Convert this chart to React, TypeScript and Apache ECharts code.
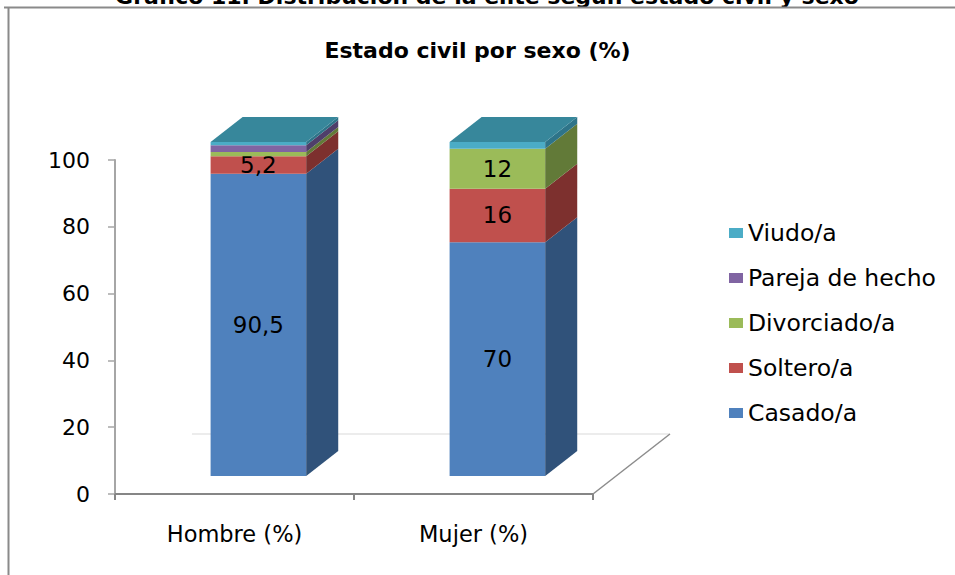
import React, { useEffect, useRef } from "react";
import * as echarts from "echarts";

const categories = ["Hombre (%)", "Mujer (%)"];
const seriesNames = ["Casado/a", "Soltero/a", "Divorciado/a", "Pareja de hecho", "Viudo/a"];
const casado = [90.5, 70];
const soltero = [5.2, 16];
const divorciado = [1.3, 12];
const pareja = [2.0, 0];
const viudo = [1.0, 2.0];
const yTicks = [0, 20, 40, 60, 80, 100];
const chartTitle = "Estado civil por sexo (%)";
const pageTitle = "Gráfico 11. Distribución de la élite según estado civil y sexo";

const frontColors = ["#4F81BD", "#C0504D", "#9BBB59", "#8064A2", "#4BACC6"];
const sideColors = ["#30527A", "#7D302E", "#627A38", "#4F3E6A", "#2E7489"];
const topColor = "#37879B";
const FONT = "DejaVu Sans";

const values = [casado, soltero, divorciado, pareja, viudo];

export default function App() {
  const ref = useRef<HTMLDivElement>(null);
  useEffect(() => {
    const chart = echarts.init(ref.current!, null, { renderer: "svg" });
    const cum = categories.map(() => 0);
    const seriesData = values.map((vals) =>
      vals.map((v, ci) => {
        const s = cum[ci];
        cum[ci] += v;
        return [ci, s, s + v, v];
      })
    );
    const topIdx = categories.map((_, ci) => {
      let t = -1;
      values.forEach((vals, si) => {
        if (vals[ci] > 0) t = si;
      });
      return t;
    });

    const barSeries = seriesNames.map((name, si) => ({
      type: "custom",
      name,
      z: 3,
      itemStyle: { color: frontColors[si] },
      encode: { x: 0, y: [1, 2] },
      data: seriesData[si],
      renderItem: (params: any, api: any) => {
        const ci = api.value(0);
        const s = api.value(1);
        const e = api.value(2);
        const v = api.value(3);
        if (!(v > 0)) return null;
        const p0 = api.coord([ci, s]);
        const p1 = api.coord([ci, e]);
        const bw = api.size([1, 0])[0];
        const w = bw * 0.4;
        const cx = p0[0] + bw * 0.1;
        const lift = 18;
        const dx = bw * 0.134;
        const dy = 25;
        const x0 = cx - w / 2;
        const x1 = cx + w / 2;
        const yb = p0[1] - lift;
        const yt = p1[1] - lift;
        const children: any[] = [
          {
            type: "rect",
            shape: { x: x0, y: yt, width: w, height: yb - yt },
            style: { fill: frontColors[si] },
          },
          {
            type: "polygon",
            shape: { points: [[x1, yb], [x1 + dx, yb - dy], [x1 + dx, yt - dy], [x1, yt]] },
            style: { fill: sideColors[si] },
          },
        ];
        if (topIdx[ci] === si) {
          children.push({
            type: "polygon",
            shape: { points: [[x0, yt], [x1, yt], [x1 + dx, yt - dy], [x0 + dx, yt - dy]] },
            style: { fill: topColor },
          });
        }
        if (v >= 5) {
          children.push({
            type: "text",
            style: {
              text: String(v).replace(".", ","),
              x: cx,
              y: (yb + yt) / 2,
              align: "center",
              verticalAlign: "middle",
              fontSize: 23,
              fontFamily: FONT,
              fill: "#000",
            },
          });
        }
        return { type: "group", children };
      },
    }));

    const floorSeries = {
      type: "custom",
      name: "floor",
      z: 1,
      silent: true,
      data: [[0, 0]],
      encode: { x: 0, y: 1 },
      renderItem: (params: any, api: any) => {
        const o = api.coord([0, 0]);
        const bw = api.size([1, 0])[0];
        const left = o[0] - bw / 2;
        const right = left + bw * categories.length;
        const y0 = o[1];
        const fdx = bw * 0.322;
        const fdy = 60;
        return {
          type: "group",
          children: [
            {
              type: "line",
              shape: { x1: left + fdx, y1: y0 - fdy, x2: right + fdx, y2: y0 - fdy },
              style: { stroke: "#D9D9D9", lineWidth: 1 },
            },
            {
              type: "line",
              shape: { x1: right, y1: y0, x2: right + fdx, y2: y0 - fdy },
              style: { stroke: "#8C8C8C", lineWidth: 1.5 },
            },
          ],
        };
      },
    };

    chart.setOption({
      animation: false,
      backgroundColor: "#fff",
      title: {
        text: chartTitle,
        left: "center",
        top: 34,
        textStyle: { fontSize: 22, fontWeight: "bold", fontFamily: FONT, color: "#000" },
      },
      legend: {
        orient: "vertical",
        left: 729,
        top: 221,
        padding: 0,
        itemWidth: 14,
        itemHeight: 10,
        itemGap: 21,
        icon: "rect",
        data: [...seriesNames].reverse(),
        textStyle: { fontSize: 23.5, fontFamily: FONT, color: "#000" },
      },
      grid: { left: 115, right: 362, top: 160, bottom: 81, containLabel: false },
      xAxis: {
        type: "category",
        data: categories,
        boundaryGap: true,
        axisLine: { lineStyle: { color: "#868686", width: 2 } },
        axisTick: { show: true, length: 6, lineStyle: { color: "#868686", width: 2 } },
        axisLabel: { margin: 28, fontSize: 22.5, fontFamily: FONT, color: "#000" },
      },
      yAxis: {
        type: "value",
        min: yTicks[0],
        max: yTicks[yTicks.length - 1],
        interval: yTicks[1] - yTicks[0],
        axisLine: { show: true, lineStyle: { color: "#A6A6A6", width: 2 } },
        axisTick: { show: true, length: 7, lineStyle: { color: "#A6A6A6", width: 1.5 } },
        splitLine: { show: false },
        axisLabel: { margin: 25, fontSize: 22, fontFamily: FONT, color: "#000" },
      },
      graphic: [
        {
          type: "text",
          x: 487,
          y: -4,
          style: {
            text: pageTitle,
            align: "center",
            verticalAlign: "middle",
            fontSize: 22,
            fontWeight: "bold",
            fontFamily: FONT,
            fill: "#000",
          },
        },
        { type: "line", shape: { x1: 4, y1: 7.5, x2: 955, y2: 7.5 }, style: { stroke: "#8A8A8A", lineWidth: 2 } },
        { type: "line", shape: { x1: 8.5, y1: 7, x2: 8.5, y2: 575 }, style: { stroke: "#8A8A8A", lineWidth: 2 } },
      ],
      series: [floorSeries, ...barSeries],
    });
    return () => chart.dispose();
  }, []);
  return (
    <div
      ref={ref}
      style={{ position: "absolute", left: 0, top: 0, width: 955, height: 575, background: "#fff" }}
    />
  );
}
